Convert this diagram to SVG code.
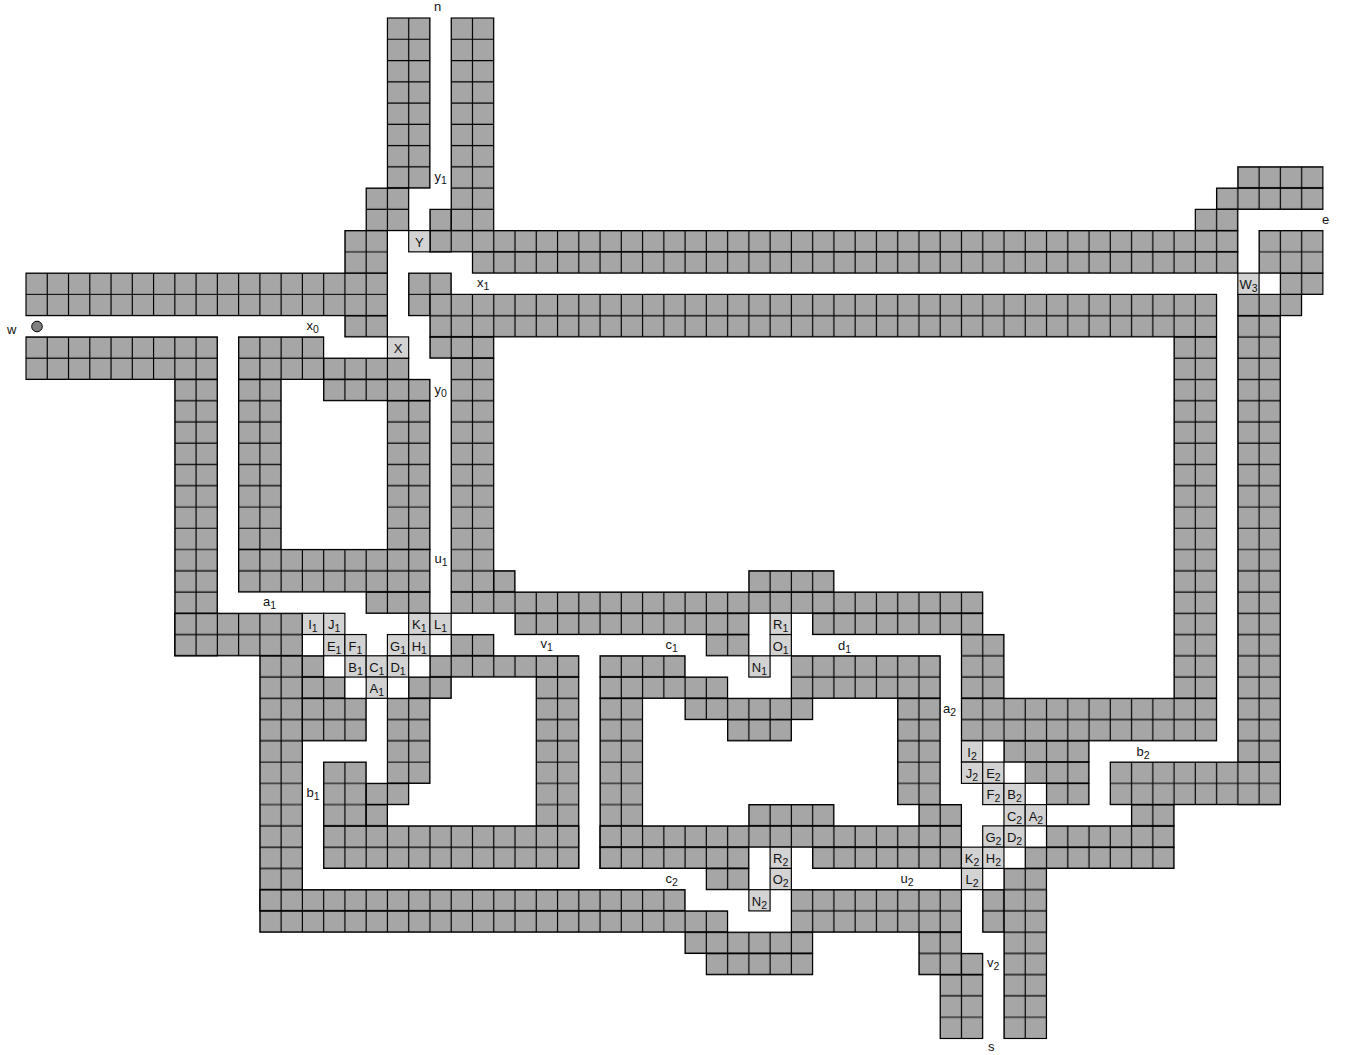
<svg xmlns="http://www.w3.org/2000/svg" width="1346" height="1055" viewBox="0 0 1346 1055">
<style>
.g{fill:url(#cell);stroke:#000;stroke-width:.055}
.l{fill:#d3d3d3;stroke:#000;stroke-width:.055}
text{font-family:"Liberation Sans",Arial,sans-serif;font-size:13px;fill:#111}
.m{text-anchor:middle}
.s{font-size:10.5px}
#cell-labels,#labels{opacity:.99}
</style>
<defs>
<pattern id="cell" patternUnits="userSpaceOnUse" width="61" height="48">
<rect width="61" height="48" fill="#a6a6a6"/>
<path fill="none" stroke="#000" stroke-width=".055" d="M1 0V48M2 0V48M3 0V48M4 0V48M5 0V48M6 0V48M7 0V48M8 0V48M9 0V48M10 0V48M11 0V48M12 0V48M13 0V48M14 0V48M15 0V48M16 0V48M17 0V48M18 0V48M19 0V48M20 0V48M21 0V48M22 0V48M23 0V48M24 0V48M25 0V48M26 0V48M27 0V48M28 0V48M29 0V48M30 0V48M31 0V48M32 0V48M33 0V48M34 0V48M35 0V48M36 0V48M37 0V48M38 0V48M39 0V48M40 0V48M41 0V48M42 0V48M43 0V48M44 0V48M45 0V48M46 0V48M47 0V48M48 0V48M49 0V48M50 0V48M51 0V48M52 0V48M53 0V48M54 0V48M55 0V48M56 0V48M57 0V48M58 0V48M59 0V48M60 0V48M0 1H61M0 2H61M0 3H61M0 4H61M0 5H61M0 6H61M0 7H61M0 8H61M0 9H61M0 10H61M0 11H61M0 12H61M0 13H61M0 14H61M0 15H61M0 16H61M0 17H61M0 18H61M0 19H61M0 20H61M0 21H61M0 22H61M0 23H61M0 24H61M0 25H61M0 26H61M0 27H61M0 28H61M0 29H61M0 30H61M0 31H61M0 32H61M0 33H61M0 34H61M0 35H61M0 36H61M0 37H61M0 38H61M0 39H61M0 40H61M0 41H61M0 42H61M0 43H61M0 44H61M0 45H61M0 46H61M0 47H61"/>
</pattern>
</defs>
<rect width="1346" height="1055" fill="#fff"/>
<g id="plan" transform="translate(26 18) scale(21.26)">
<g id="walls">
<rect class="g" x="17" y="0" width="2" height="8"/>
<rect class="g" x="16" y="8" width="2" height="2"/>
<rect class="g" x="15" y="10" width="2" height="5"/>
<rect class="g" x="0" y="12" width="17" height="2"/>
<rect class="g" x="20" y="0" width="2" height="10"/>
<rect class="g" x="19" y="9" width="1" height="2"/>
<rect class="g" x="19" y="10" width="38" height="1"/>
<rect class="g" x="21" y="11" width="36" height="1"/>
<rect class="g" x="18" y="12" width="2" height="2"/>
<rect class="g" x="19" y="13" width="37" height="2"/>
<rect class="g" x="19" y="15" width="3" height="1"/>
<rect class="g" x="20" y="16" width="2" height="11"/>
<rect class="g" x="22" y="26" width="1" height="1"/>
<rect class="g" x="20" y="27" width="25" height="1"/>
<rect class="g" x="0" y="15" width="9" height="2"/>
<rect class="g" x="7" y="17" width="2" height="13"/>
<rect class="g" x="7" y="28" width="6" height="2"/>
<rect class="g" x="10" y="15" width="4" height="2"/>
<rect class="g" x="14" y="16" width="4" height="1"/>
<rect class="g" x="14" y="17" width="5" height="1"/>
<rect class="g" x="10" y="17" width="2" height="8"/>
<rect class="g" x="17" y="18" width="2" height="7"/>
<rect class="g" x="10" y="25" width="9" height="2"/>
<rect class="g" x="16" y="27" width="3" height="1"/>
<rect class="g" x="23" y="28" width="11" height="1"/>
<rect class="g" x="32" y="29" width="2" height="1"/>
<rect class="g" x="37" y="28" width="8" height="1"/>
<rect class="g" x="34" y="26" width="4" height="1"/>
<rect class="g" x="20" y="29" width="2" height="1"/>
<rect class="g" x="19" y="30" width="7" height="1"/>
<rect class="g" x="18" y="31" width="2" height="1"/>
<rect class="g" x="24" y="31" width="2" height="9"/>
<rect class="g" x="14" y="38" width="12" height="2"/>
<rect class="g" x="11" y="30" width="2" height="12"/>
<rect class="g" x="13" y="30" width="1" height="1"/>
<rect class="g" x="13" y="31" width="2" height="1"/>
<rect class="g" x="13" y="32" width="3" height="2"/>
<rect class="g" x="11" y="41" width="20" height="1"/>
<rect class="g" x="11" y="42" width="22" height="1"/>
<rect class="g" x="17" y="32" width="2" height="4"/>
<rect class="g" x="14" y="35" width="2" height="3"/>
<rect class="g" x="16" y="36" width="2" height="1"/>
<rect class="g" x="16" y="37" width="1" height="1"/>
<rect class="g" x="27" y="30" width="4" height="1"/>
<rect class="g" x="27" y="31" width="6" height="1"/>
<rect class="g" x="27" y="32" width="2" height="8"/>
<rect class="g" x="31" y="32" width="6" height="1"/>
<rect class="g" x="33" y="33" width="3" height="1"/>
<rect class="g" x="36" y="30" width="7" height="2"/>
<rect class="g" x="41" y="32" width="2" height="5"/>
<rect class="g" x="42" y="37" width="2" height="1"/>
<rect class="g" x="44" y="29" width="2" height="3"/>
<rect class="g" x="44" y="32" width="12" height="2"/>
<rect class="g" x="54" y="15" width="2" height="17"/>
<rect class="g" x="57" y="14" width="2" height="23"/>
<rect class="g" x="57" y="13" width="3" height="1"/>
<rect class="g" x="59" y="12" width="2" height="1"/>
<rect class="g" x="58" y="10" width="3" height="2"/>
<rect class="g" x="57" y="7" width="4" height="1"/>
<rect class="g" x="56" y="8" width="5" height="1"/>
<rect class="g" x="55" y="9" width="2" height="1"/>
<rect class="g" x="34" y="37" width="4" height="1"/>
<rect class="g" x="27" y="38" width="17" height="1"/>
<rect class="g" x="27" y="39" width="7" height="1"/>
<rect class="g" x="37" y="39" width="7" height="1"/>
<rect class="g" x="32" y="40" width="2" height="1"/>
<rect class="g" x="36" y="41" width="8" height="2"/>
<rect class="g" x="31" y="43" width="6" height="1"/>
<rect class="g" x="32" y="44" width="5" height="1"/>
<rect class="g" x="42" y="43" width="2" height="2"/>
<rect class="g" x="44" y="44" width="1" height="1"/>
<rect class="g" x="43" y="45" width="2" height="3"/>
<rect class="g" x="45" y="41" width="3" height="2"/>
<rect class="g" x="46" y="40" width="2" height="8"/>
<rect class="g" x="47" y="39" width="7" height="1"/>
<rect class="g" x="48" y="38" width="6" height="1"/>
<rect class="g" x="52" y="37" width="2" height="1"/>
<rect class="g" x="46" y="34" width="4" height="1"/>
<rect class="g" x="47" y="35" width="3" height="1"/>
<rect class="g" x="48" y="36" width="2" height="1"/>
<rect class="g" x="51" y="35" width="8" height="2"/>
</g>
<g id="light-cells">
<rect class="l" x="18" y="10" width="1" height="1"/>
<rect class="l" x="17" y="15" width="1" height="1"/>
<rect class="l" x="57" y="12" width="1" height="1"/>
<rect class="l" x="13" y="28" width="1" height="1"/>
<rect class="l" x="14" y="28" width="1" height="1"/>
<rect class="l" x="18" y="28" width="1" height="1"/>
<rect class="l" x="19" y="28" width="1" height="1"/>
<rect class="l" x="14" y="29" width="1" height="1"/>
<rect class="l" x="15" y="29" width="1" height="1"/>
<rect class="l" x="17" y="29" width="1" height="1"/>
<rect class="l" x="18" y="29" width="1" height="1"/>
<rect class="l" x="15" y="30" width="1" height="1"/>
<rect class="l" x="16" y="30" width="1" height="1"/>
<rect class="l" x="17" y="30" width="1" height="1"/>
<rect class="l" x="16" y="31" width="1" height="1"/>
<rect class="l" x="35" y="28" width="1" height="1"/>
<rect class="l" x="35" y="29" width="1" height="1"/>
<rect class="l" x="34" y="30" width="1" height="1"/>
<rect class="l" x="35" y="39" width="1" height="1"/>
<rect class="l" x="35" y="40" width="1" height="1"/>
<rect class="l" x="34" y="41" width="1" height="1"/>
<rect class="l" x="44" y="34" width="1" height="1"/>
<rect class="l" x="44" y="35" width="1" height="1"/>
<rect class="l" x="45" y="35" width="1" height="1"/>
<rect class="l" x="45" y="36" width="1" height="1"/>
<rect class="l" x="46" y="36" width="1" height="1"/>
<rect class="l" x="46" y="37" width="1" height="1"/>
<rect class="l" x="47" y="37" width="1" height="1"/>
<rect class="l" x="45" y="38" width="1" height="1"/>
<rect class="l" x="46" y="38" width="1" height="1"/>
<rect class="l" x="44" y="39" width="1" height="1"/>
<rect class="l" x="45" y="39" width="1" height="1"/>
<rect class="l" x="44" y="40" width="1" height="1"/>
</g>
</g>
<circle cx="37" cy="326.5" r="5.3" fill="#808080" stroke="#000" stroke-width="1"/>
<g id="cell-labels">
<text class="m" x="419.3" y="246.6">Y</text>
<text class="m" x="398" y="353">X</text>
<text class="m" x="1248.5" y="289">W<tspan class="s" dy="3">3</tspan></text>
<text class="m" x="312.9" y="629.3">I<tspan class="s" dy="3">1</tspan></text>
<text class="m" x="334.2" y="629.3">J<tspan class="s" dy="3">1</tspan></text>
<text class="m" x="419.3" y="629.3">K<tspan class="s" dy="3">1</tspan></text>
<text class="m" x="440.6" y="629.3">L<tspan class="s" dy="3">1</tspan></text>
<text class="m" x="334.2" y="650.5">E<tspan class="s" dy="3">1</tspan></text>
<text class="m" x="355.5" y="650.5">F<tspan class="s" dy="3">1</tspan></text>
<text class="m" x="398" y="650.5">G<tspan class="s" dy="3">1</tspan></text>
<text class="m" x="419.3" y="650.5">H<tspan class="s" dy="3">1</tspan></text>
<text class="m" x="355.5" y="671.8">B<tspan class="s" dy="3">1</tspan></text>
<text class="m" x="376.8" y="671.8">C<tspan class="s" dy="3">1</tspan></text>
<text class="m" x="398" y="671.8">D<tspan class="s" dy="3">1</tspan></text>
<text class="m" x="376.8" y="693">A<tspan class="s" dy="3">1</tspan></text>
<text class="m" x="780.7" y="629.3">R<tspan class="s" dy="3">1</tspan></text>
<text class="m" x="780.7" y="650.5">O<tspan class="s" dy="3">1</tspan></text>
<text class="m" x="759.4" y="671.8">N<tspan class="s" dy="3">1</tspan></text>
<text class="m" x="780.7" y="863">R<tspan class="s" dy="3">2</tspan></text>
<text class="m" x="780.7" y="884.4">O<tspan class="s" dy="3">2</tspan></text>
<text class="m" x="759.4" y="905.7">N<tspan class="s" dy="3">2</tspan></text>
<text class="m" x="972" y="756.8">I<tspan class="s" dy="3">2</tspan></text>
<text class="m" x="972" y="778">J<tspan class="s" dy="3">2</tspan></text>
<text class="m" x="993.4" y="778">E<tspan class="s" dy="3">2</tspan></text>
<text class="m" x="993.4" y="799.4">F<tspan class="s" dy="3">2</tspan></text>
<text class="m" x="1014.6" y="799.4">B<tspan class="s" dy="3">2</tspan></text>
<text class="m" x="1014.6" y="820.6">C<tspan class="s" dy="3">2</tspan></text>
<text class="m" x="1035.9" y="820.6">A<tspan class="s" dy="3">2</tspan></text>
<text class="m" x="993.4" y="842">G<tspan class="s" dy="3">2</tspan></text>
<text class="m" x="1014.6" y="842">D<tspan class="s" dy="3">2</tspan></text>
<text class="m" x="972" y="863">K<tspan class="s" dy="3">2</tspan></text>
<text class="m" x="993.4" y="863">H<tspan class="s" dy="3">2</tspan></text>
<text class="m" x="972" y="884.4">L<tspan class="s" dy="3">2</tspan></text>
</g>
<g id="labels">
<text x="434" y="10.7">n</text>
<text x="7" y="333.5">w</text>
<text x="1322" y="224">e</text>
<text x="988" y="1051">s</text>
<text x="306.5" y="330">x<tspan class="s" dy="3">0</tspan></text>
<text x="477" y="286.5">x<tspan class="s" dy="3">1</tspan></text>
<text x="434.5" y="181">y<tspan class="s" dy="3">1</tspan></text>
<text x="434.5" y="394">y<tspan class="s" dy="3">0</tspan></text>
<text x="434.5" y="563">u<tspan class="s" dy="3">1</tspan></text>
<text x="263" y="605.7">a<tspan class="s" dy="3">1</tspan></text>
<text x="540.5" y="648">v<tspan class="s" dy="3">1</tspan></text>
<text x="306.5" y="797">b<tspan class="s" dy="3">1</tspan></text>
<text x="665.5" y="649">c<tspan class="s" dy="3">1</tspan></text>
<text x="838" y="650">d<tspan class="s" dy="3">1</tspan></text>
<text x="943" y="713">a<tspan class="s" dy="3">2</tspan></text>
<text x="665.5" y="883">c<tspan class="s" dy="3">2</tspan></text>
<text x="900.5" y="882.7">u<tspan class="s" dy="3">2</tspan></text>
<text x="987" y="967.3">v<tspan class="s" dy="3">2</tspan></text>
<text x="1136.5" y="756">b<tspan class="s" dy="3">2</tspan></text>
</g>
</svg>
